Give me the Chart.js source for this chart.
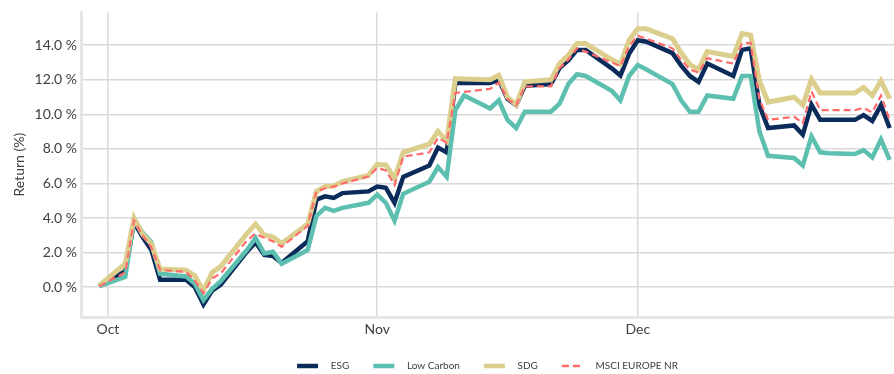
<!DOCTYPE html>
<html>
<head>
<meta charset="utf-8">
<script src="https://cdn.jsdelivr.net/npm/chart.js@4.4.1/dist/chart.umd.min.js"></script>
<style>
  html, body { margin: 0; padding: 0; background: #ffffff; }
  #wrap { width: 894px; height: 374px; position: relative; }
</style>
</head>
<body>
<div id="wrap"><canvas id="chart"></canvas></div>
<script>
// days counted from 1 Oct (Oct 1 = 0), business days of Q4
const days = [-1, 2, 3, 4, 5, 6, 9, 10, 11, 12, 13, 16, 17, 18, 19, 20, 23, 24, 25, 26, 27,
  30, 31, 32, 33, 34, 37, 38, 39, 40, 41, 44, 45, 46, 47, 48, 51, 52, 53, 54, 55,
  58, 59, 60, 61, 62, 65, 66, 67, 68, 69, 72, 73, 74, 75, 76, 79, 80, 81, 82, 83, 86, 87, 88, 89, 90];

const esg = [0.05, 0.92, 3.75, 2.9, 2.15, 0.42, 0.42, 0.0, -1.0, -0.2, 0.15, 2.05, 2.6, 1.86, 1.8, 1.4, 2.65, 5.06, 5.25, 5.16, 5.44,
  5.54, 5.82, 5.75, 4.88, 6.38, 7.04, 8.08, 7.8, 11.81, 11.81, 11.81, 12.0, 10.9, 10.53, 11.66, 11.75, 12.69, 13.12, 13.73, 13.73,
  12.66, 12.25, 13.5, 14.29, 14.2, 13.54, 12.82, 12.22, 11.88, 12.94, 12.22, 13.73, 13.82, 10.53, 9.21, 9.36, 8.83, 10.56, 9.68, 9.68, 9.68, 9.96, 9.62, 10.53, 9.21];

const lowCarbon = [0.05, 0.6, 3.9, 3.15, 2.6, 0.78, 0.62, 0.2, -0.75, -0.1, 0.35, 2.15, 2.85, 1.95, 2.05, 1.35, 2.15, 4.12, 4.59, 4.41, 4.59,
  4.88, 5.35, 4.88, 3.84, 5.4, 6.1, 6.95, 6.38, 10.24, 11.09, 10.34, 10.81, 9.68, 9.21, 10.15, 10.15, 10.62, 11.75, 12.32, 12.22,
  11.37, 10.81, 12.22, 12.85, 12.6, 11.75, 10.81, 10.15, 10.15, 11.09, 10.9, 12.22, 12.22, 9.02, 7.6, 7.47, 7.04, 8.73, 7.8, 7.75, 7.7, 7.93, 7.51, 8.55, 7.36];

const sdg = [0.1, 1.35, 4.0, 3.05, 2.5, 1.05, 0.98, 0.65, -0.2, 0.85, 1.2, 3.1, 3.65, 3.0, 2.9, 2.52, 3.65, 5.54, 5.82, 5.85, 6.1,
  6.47, 7.1, 7.07, 6.29, 7.8, 8.27, 9.02, 8.45, 12.07, 12.05, 12.0, 12.26, 11.0, 10.56, 11.88, 12.0, 12.94, 13.42, 14.1, 14.1,
  13.17, 12.9, 14.3, 14.95, 14.95, 14.38, 13.56, 12.88, 12.6, 13.63, 13.35, 14.67, 14.58, 11.94, 10.71, 10.99, 10.53, 12.03, 11.24, 11.24, 11.24, 11.56, 11.09, 11.94, 10.9];

const msciEurope = [0.05, 0.85, 3.85, 3.0, 2.3, 1.0, 0.88, 0.38, -0.35, 0.5, 0.8, 2.7, 3.1, 2.85, 2.65, 2.33, 3.55, 5.55, 5.72, 5.82, 6.0,
  6.4, 6.9, 6.75, 5.91, 7.55, 7.8, 8.64, 8.36, 11.24, 11.3, 11.47, 11.84, 10.9, 10.53, 11.62, 11.62, 12.69, 13.16, 13.82, 13.63,
  13.0, 12.79, 13.95, 14.55, 14.38, 13.82, 13.15, 12.6, 12.41, 13.25, 12.94, 14.1, 14.14, 10.9, 9.68, 9.86, 9.49, 11.32, 10.24, 10.24, 10.24, 10.37, 10.11, 11.09, 9.68];

const monthTickDays = [0, 31, 61];
const monthTickLabels = ["Oct", "Nov", "Dec"];
const yTickValues = [0, 2, 4, 6, 8, 10, 12, 14];

const gridColor = "#d9d9d9";
const axisColor = "#e6e6e6";
const textColor = "#404040";

Chart.defaults.font.family = "Lato, 'DejaVu Sans', sans-serif";

function toPoints(values) {
  return days.map((d, i) => ({ x: d, y: values[i] }));
}

function lineDataset(label, values, color, width, order, dash) {
  return {
    label,
    data: toPoints(values),
    borderColor: color,
    backgroundColor: color,
    borderWidth: width,
    borderDash: dash || [],
    pointRadius: 0,
    pointHoverRadius: 0,
    tension: 0,
    fill: false,
    order,
  };
}

const datasets = [
  lineDataset("ESG", esg, "#0b2b5b", 4.5, 3),
  lineDataset("Low Carbon", lowCarbon, "#5cbfb0", 4.5, 2),
  lineDataset("SDG", sdg, "#dccf8d", 5, 1),
  lineDataset("MSCI EUROPE NR", msciEurope, "#ff6b6b", 2.2, 0, [7, 4]),
];

new Chart(document.getElementById("chart"), {
  type: "line",
  data: { datasets },
  options: {
    responsive: true,
    maintainAspectRatio: false,
    animation: false,
    layout: {
      padding: { top: 5, right: 0, left: 0, bottom: -7 },
    },
    plugins: {
      tooltip: { enabled: false },
      legend: {
        position: "bottom",
        fullSize: false,
        labels: {
          color: textColor,
          font: { size: 10 },
          usePointStyle: true,
          pointStyle: "line",
          pointStyleWidth: 21,
          padding: 24,
          generateLabels(chart) {
            return chart.data.datasets.map((ds, i) => ({
              text: "   " + ds.label,
              fillStyle: ds.borderColor,
              strokeStyle: ds.borderColor,
              fontColor: textColor,
              lineWidth: ds.borderDash.length ? 2.5 : 4.5,
              lineDash: ds.borderDash,
              pointStyle: "line",
              hidden: false,
              datasetIndex: i,
            }));
          },
        },
      },
    },
    scales: {
      x: {
        type: "linear",
        min: -3.1,
        max: 90.5,
        afterFit(scale) {
          scale.height = 20;
        },
        afterBuildTicks(scale) {
          scale.ticks = monthTickDays.map((value) => ({ value }));
        },
        ticks: {
          color: textColor,
          font: { size: 14 },
          padding: 4,
          maxRotation: 0,
          autoSkip: false,
          callback: (value) => monthTickLabels[monthTickDays.indexOf(value)],
        },
        grid: {
          color: gridColor,
          lineWidth: 1.5,
          drawTicks: false,
        },
        border: { color: axisColor, width: 3 },
      },
      y: {
        min: -1.73,
        max: 15.9,
        afterFit(scale) {
          scale.width = 81;
        },
        afterBuildTicks(scale) {
          scale.ticks = yTickValues.map((value) => ({ value }));
        },
        ticks: {
          color: textColor,
          font: { size: 14 },
          padding: 4,
          callback: (value) => `${value.toFixed(1)} %`,
        },
        title: {
          display: true,
          text: "Return (%)",
          color: textColor,
          font: { size: 14 },
          padding: { top: 11, bottom: 0 },
        },
        grid: {
          color: gridColor,
          lineWidth: 1.5,
          drawTicks: false,
        },
        border: { color: axisColor, width: 3 },
      },
    },
  },
});
</script>
</body>
</html>
